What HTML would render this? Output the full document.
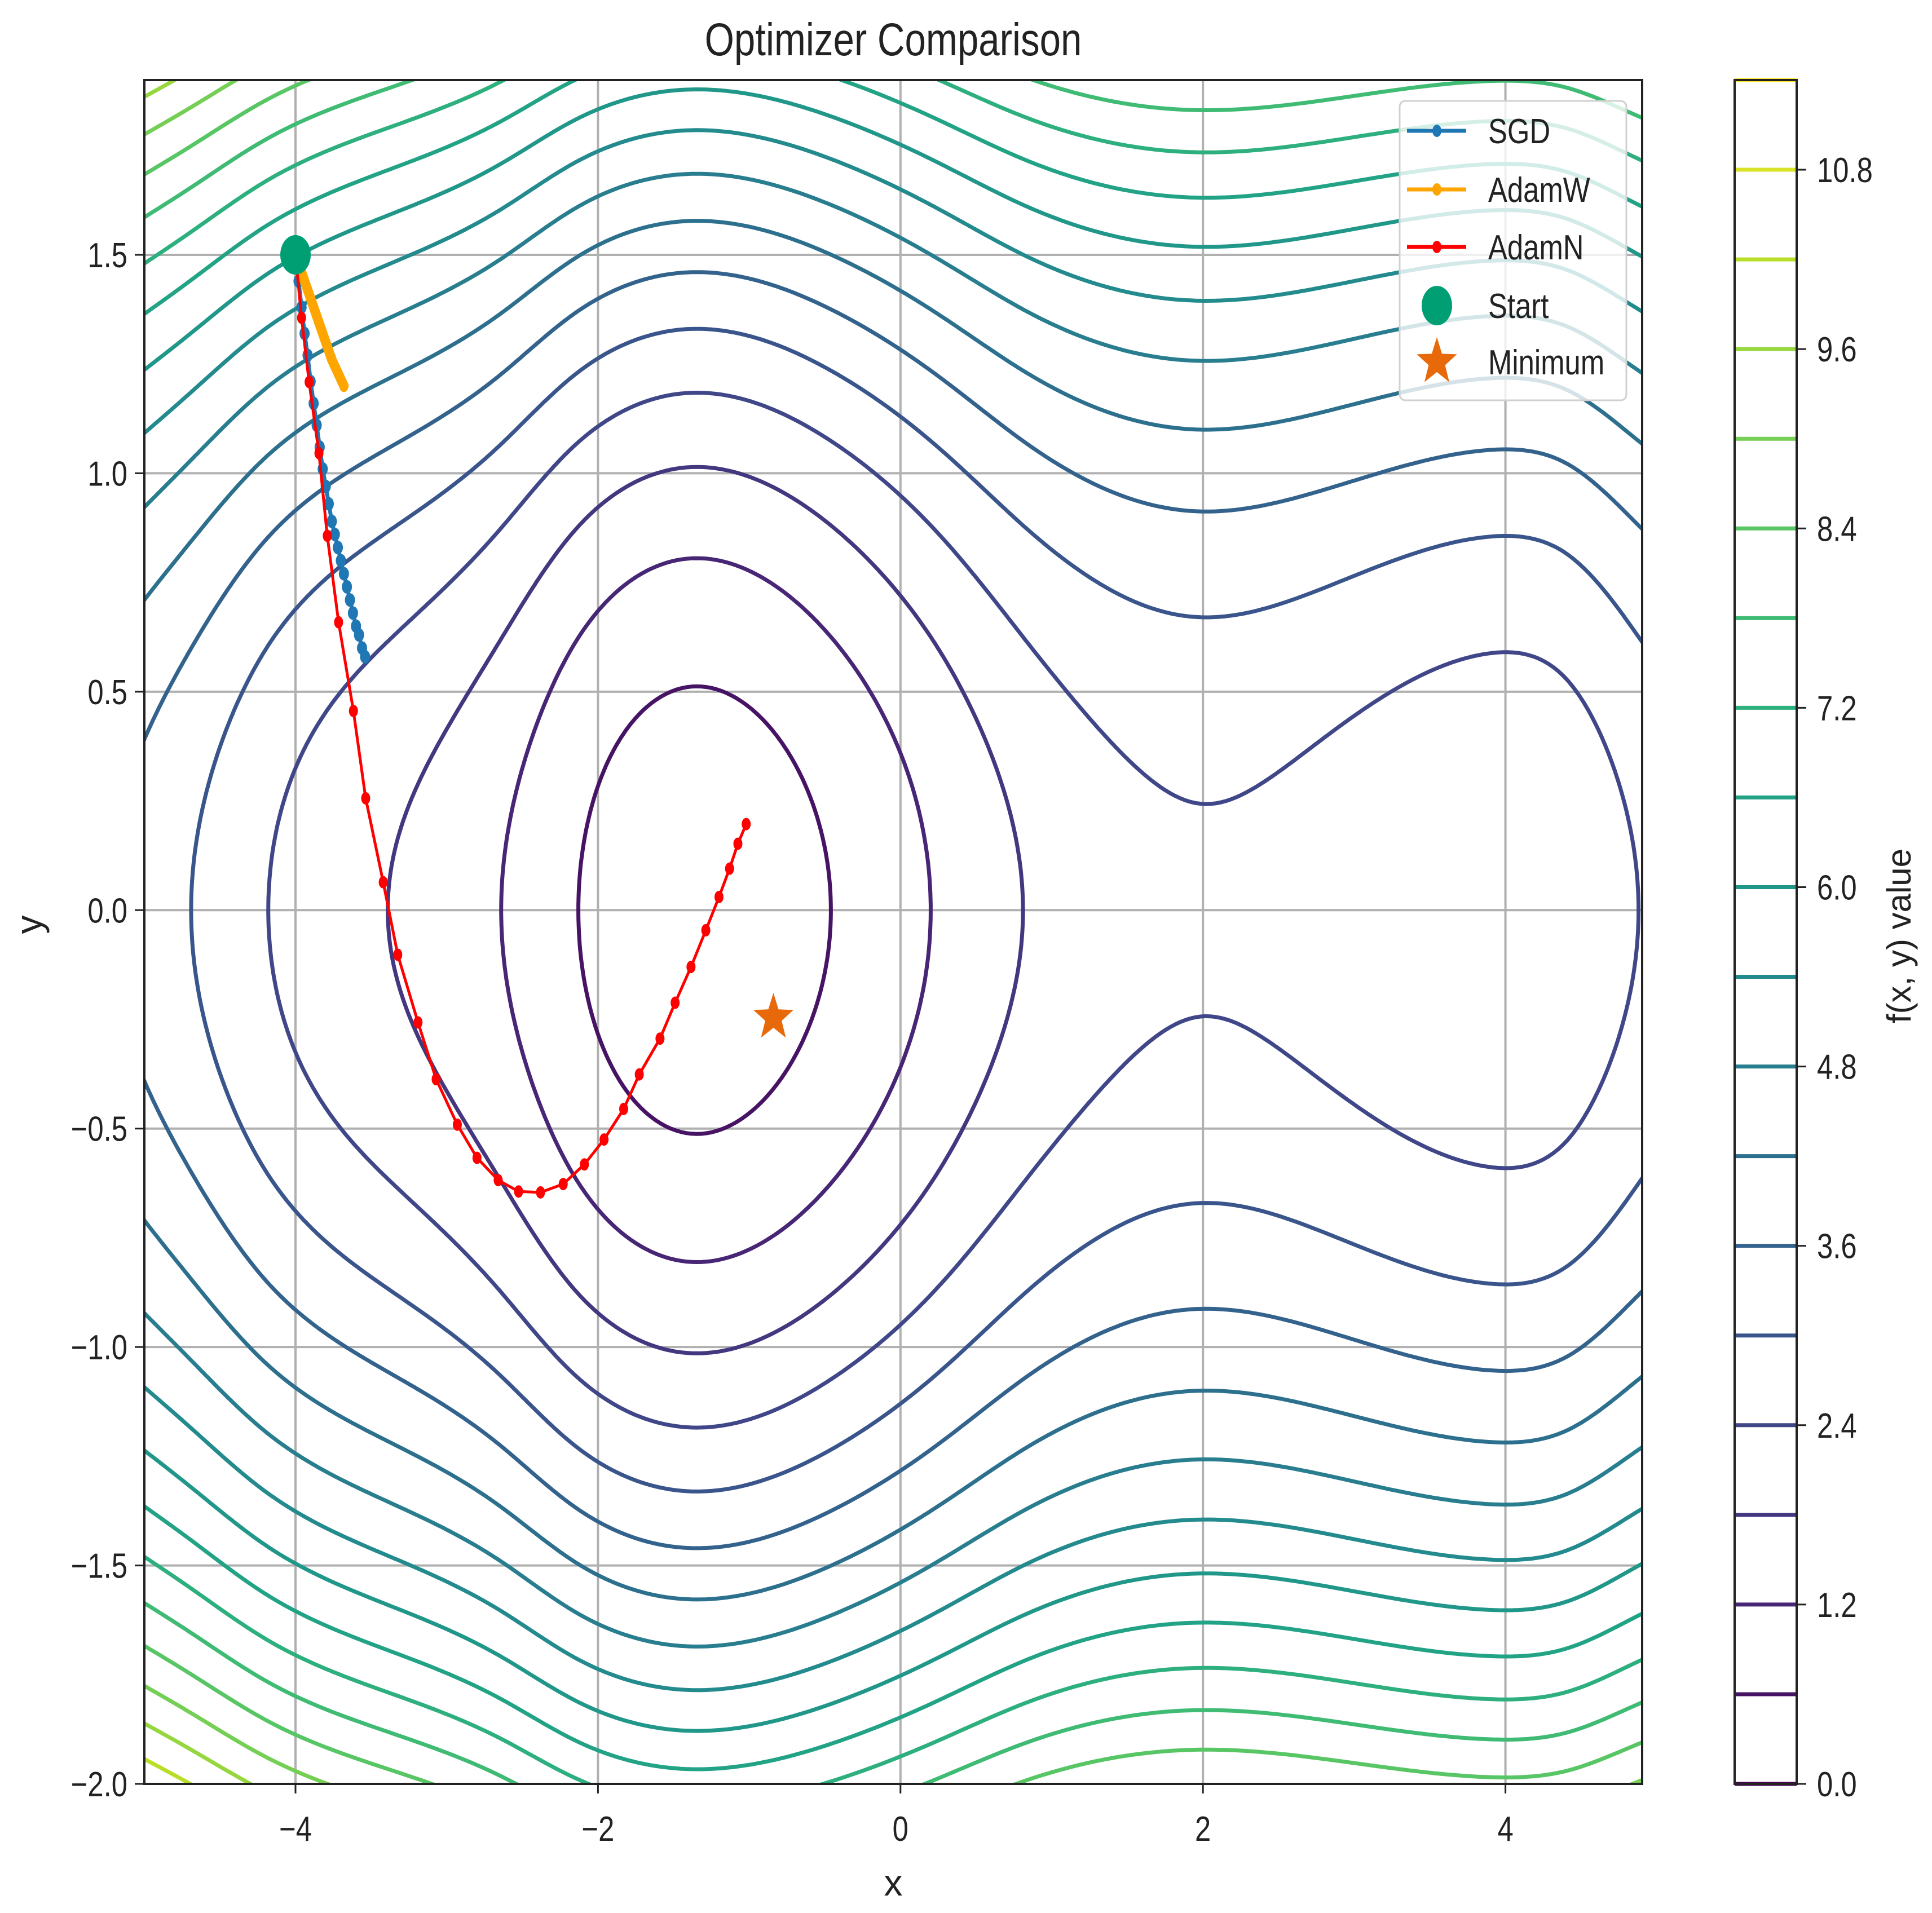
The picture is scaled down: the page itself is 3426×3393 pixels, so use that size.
<!DOCTYPE html>
<html><head><meta charset="utf-8"><title>Optimizer Comparison</title>
<style>html,body{margin:0;padding:0;background:#fff}svg{display:block}text{font-family:"Liberation Sans","DejaVu Sans",sans-serif;fill:#222}</style>
</head><body>
<svg id="chart" xmlns="http://www.w3.org/2000/svg" width="3426" height="3393" viewBox="0 0 3426 3393">
<defs><clipPath id="plotclip"><rect x="256" y="142" width="2656" height="3022"/></clipPath></defs>
<rect x="0" y="0" width="3426" height="3393" fill="#fff"/>
<g id="grid"></g>
<g id="contours" clip-path="url(#plotclip)"></g>
<g id="paths" clip-path="url(#plotclip)"></g>
<rect x="256" y="142" width="2656" height="3022" fill="none" stroke="#222" stroke-width="4"/>
<g id="axes"></g>
<text x="1584" y="98" text-anchor="middle" font-size="82" transform="translate(1584 0) scale(0.82 1) translate(-1584 0)">Optimizer Comparison</text>
<text x="1584" y="3362" text-anchor="middle" font-size="66">x</text>
<text x="0" y="0" text-anchor="middle" font-size="66" transform="translate(74 1640) rotate(-90)">y</text>
<g id="legend"></g>
<g id="cbar"></g>
<text x="0" y="0" text-anchor="middle" font-size="60" transform="translate(3388 1660) rotate(-90)">f(x, y) value</text>
</svg>
<script>
// ---- data ----
const gKnotX = [-5.2, -4.69, -4.18, -3.39, -2.64, -2.13, -1.3, -0.46, 0.2, 0.81, 2.0, 3.4, 3.9, 4.4, 4.88, 5.1];
const gKnotV = [3.55, 3.0, 2.4, 1.8, 1.2, 0.6, 0.2, 0.6, 1.2, 1.8, 2.31, 1.97, 1.87, 1.97, 2.4, 2.6];
const yCoef = 1.52;
const yQuart = 0.035;
const leftBoost = 0.012;
const contourLevels = [0,0.6,1.2,1.8,2.4,3.0,3.6,4.2,4.8,5.4,6.0,6.6,7.2,7.8,8.4,9.0,9.6,10.2,10.8,11.4];
const xTicks = [-4,-2,0,2,4];
const xTickLabels = ["\u22124","\u22122","0","2","4"];
const yTicks = [-2.0,-1.5,-1.0,-0.5,0.0,0.5,1.0,1.5];
const yTickLabels = ["\u22122.0","\u22121.5","\u22121.0","\u22120.5","0.0","0.5","1.0","1.5"];
const cbarTicks = [0.0,1.2,2.4,3.6,4.8,6.0,7.2,8.4,9.6,10.8];
const cbarTickLabels = ["0.0","1.2","2.4","3.6","4.8","6.0","7.2","8.4","9.6","10.8"];
const sgdX = [-4.0,-3.98,-3.96,-3.94,-3.92,-3.90,-3.88,-3.86,-3.84,-3.82,-3.80,-3.78,-3.76,-3.74,-3.72,-3.70,-3.68,-3.66,-3.64,-3.62,-3.60,-3.58,-3.56,-3.54];
const sgdY = [1.5,1.44,1.38,1.32,1.27,1.21,1.16,1.11,1.06,1.01,0.97,0.93,0.89,0.86,0.83,0.80,0.77,0.74,0.71,0.68,0.65,0.63,0.60,0.58];
const adamwX = [-4.0,-3.96,-3.92,-3.88,-3.84,-3.80,-3.76,-3.72,-3.68];
const adamwY = [1.5,1.46,1.42,1.38,1.34,1.30,1.26,1.23,1.20];
const adamnX = [-4.0,-3.96,-3.91,-3.845,-3.79,-3.715,-3.617,-3.536,-3.42,-3.324,-3.19,-3.07,-2.93,-2.80,-2.66,-2.525,-2.38,-2.23,-2.09,-1.96,-1.83,-1.727,-1.59,-1.49,-1.385,-1.287,-1.20,-1.13,-1.075,-1.02];
const adamnY = [1.5,1.356,1.209,1.046,0.857,0.659,0.456,0.256,0.064,-0.102,-0.257,-0.387,-0.491,-0.567,-0.618,-0.644,-0.646,-0.627,-0.582,-0.525,-0.455,-0.376,-0.294,-0.212,-0.130,-0.046,0.030,0.095,0.152,0.197];
const startPt = [-4.0, 1.5];
const minimumPt = [-0.84, -0.246];

// ---- scales ----
const X = v => 524 + (v + 4) * 268.2;
const Y = v => 452 - (v - 1.5) * 774.86;
const CB = v => 3164 - v / 11.4 * 3022;
const NS = "http://www.w3.org/2000/svg";
function mk(tag, attrs, parent){const e=document.createElementNS(NS,tag);for(const k in attrs)e.setAttribute(k,attrs[k]);parent.appendChild(e);return e;}
const vir = ["#440154","#482475","#414487","#355f8d","#2a788e","#21918c","#22a884","#44bf70","#7ad151","#bddf26","#fde725"];
function hex(h){return [1,3,5].map(i=>parseInt(h.substr(i,2),16));}
function viridis(t){t=Math.max(0,Math.min(1,t));const s=t*10,i=Math.min(9,Math.floor(s)),f=s-i;const a=hex(vir[i]),b=hex(vir[i+1]);return "rgb("+a.map((c,k)=>Math.round(c+(b[k]-c)*f)).join(",")+")";}

// natural cubic spline for g(x)
const n=gKnotX.length;
const M=(function(){const h=[],al=[],l=[1],mu=[0],z=[0],c=new Array(n).fill(0);
 for(let i=0;i<n-1;i++)h.push(gKnotX[i+1]-gKnotX[i]);
 for(let i=1;i<n-1;i++)al[i]=3/h[i]*(gKnotV[i+1]-gKnotV[i])-3/h[i-1]*(gKnotV[i]-gKnotV[i-1]);
 for(let i=1;i<n-1;i++){l[i]=2*(gKnotX[i+1]-gKnotX[i-1])-h[i-1]*mu[i-1];mu[i]=h[i]/l[i];z[i]=(al[i]-h[i-1]*z[i-1])/l[i];}
 for(let j=n-2;j>=1;j--)c[j]=z[j]-mu[j]*c[j+1];
 const b=[],d=[];for(let j=0;j<n-1;j++){b[j]=(gKnotV[j+1]-gKnotV[j])/h[j]-h[j]*(c[j+1]+2*c[j])/3;d[j]=(c[j+1]-c[j])/(3*h[j]);}
 return {b:b,c:c,d:d};})();
function g(x){let i=0;while(i<n-2&&x>gKnotX[i+1])i++;const t=x-gKnotX[i];return gKnotV[i]+M.b[i]*t+M.c[i]*t*t+M.d[i]*t*t*t;}
function f(x,y){const dl=Math.max(0,-(x+1.3));const y2=y*y;return g(x)+(yCoef+yQuart*y2+leftBoost*dl*dl)*y2;}

// grid
const grid=document.getElementById('grid');
xTicks.forEach(v=>{const l=mk('line',{x1:X(v),x2:X(v),y1:142,y2:3164,stroke:'#b0b0b0','stroke-width':4},grid);});
yTicks.forEach(v=>{const l=mk('line',{x1:256,x2:2912,y1:Y(v),y2:Y(v),stroke:'#b0b0b0','stroke-width':4},grid);});

// contours (marching squares)
const cg=document.getElementById('contours');
const NX=300,NY=260,x0=-5.05,x1=4.95,y0=-2.05,y1=1.95;
const vals=[];for(let j=0;j<=NY;j++){const r=[];for(let i=0;i<=NX;i++)r.push(f(x0+(x1-x0)*i/NX,y0+(y1-y0)*j/NY));vals.push(r);}
contourLevels.forEach(L=>{
 let d="";
 for(let j=0;j<NY;j++)for(let i=0;i<NX;i++){
  const xa=x0+(x1-x0)*i/NX,xb=x0+(x1-x0)*(i+1)/NX,ya=y0+(y1-y0)*j/NY,yb=y0+(y1-y0)*(j+1)/NY;
  const v00=vals[j][i],v10=vals[j][i+1],v01=vals[j+1][i],v11=vals[j+1][i+1];
  const pts=[];
  const e=(va,vb,pa,pb)=>{if((va<L)!==(vb<L)){const t=(L-va)/(vb-va);pts.push([pa[0]+(pb[0]-pa[0])*t,pa[1]+(pb[1]-pa[1])*t]);}};
  e(v00,v10,[xa,ya],[xb,ya]);e(v10,v11,[xb,ya],[xb,yb]);e(v11,v01,[xb,yb],[xa,yb]);e(v01,v00,[xa,yb],[xa,ya]);
  for(let k=0;k+1<pts.length;k+=2)d+="M"+X(pts[k][0]).toFixed(1)+" "+Y(pts[k][1]).toFixed(1)+"L"+X(pts[k+1][0]).toFixed(1)+" "+Y(pts[k+1][1]).toFixed(1);
 }
 if(d){const p=mk('path',{d:d,fill:'none',stroke:viridis(L/11.4),'stroke-width':7,'stroke-linecap':'round'},cg);
 
 }
});

// trajectories
const pg=document.getElementById('paths');
function series(xs,ys,color,lw,rx,ry,name){
 const grp=mk('g',{},pg);
 
 
 const pl=mk('polyline',{points:xs.map((v,i)=>X(v)+','+Y(ys[i])).join(' '),fill:'none',stroke:color,'stroke-width':lw,'stroke-linejoin':'round','stroke-linecap':'round'},grp);
 
 
 xs.forEach((v,i)=>{const m=mk('ellipse',{cx:X(v),cy:Y(ys[i]),rx:rx,ry:ry,fill:color},grp);
  
  });
}
series(sgdX,sgdY,'#1f77b4',7,9,12,'sgd');
series(adamwX,adamwY,'#ffa500',17,8,11,'adamw');
series(adamnX,adamnY,'#ff0000',5,8,11,'adamn');
const st=mk('ellipse',{cx:X(startPt[0]),cy:Y(startPt[1]),rx:27,ry:35,fill:'#009e73'},pg);


function star(cx,cy,R,r){let p=[];for(let k=0;k<10;k++){const a=-Math.PI/2+k*Math.PI/5,rr=k%2?r:R;p.push((cx+rr*Math.cos(a)*0.85).toFixed(1)+','+(cy+rr*Math.sin(a)).toFixed(1));}return p.join(' ');}
const mn=mk('polygon',{points:star(X(minimumPt[0]),Y(minimumPt[1]),44,18),fill:'#e8690a'},pg);



// axes ticks
const ax=document.getElementById('axes');
xTicks.forEach((v,i)=>{const t=mk('line',{x1:X(v),x2:X(v),y1:3164,y2:3181,stroke:'#222','stroke-width':3},ax);
 const tx=mk('text',{x:X(v),y:3265,'text-anchor':'middle','font-size':62,transform:'translate('+X(v)+' 0) scale(0.82 1) translate('+(-X(v))+' 0)'},ax);tx.textContent=xTickLabels[i];});
yTicks.forEach((v,i)=>{const t=mk('line',{x1:239,x2:256,y1:Y(v),y2:Y(v),stroke:'#222','stroke-width':3},ax);
 const tx=mk('text',{x:226,y:Y(v)+22,'text-anchor':'end','font-size':62,transform:'translate(226 0) scale(0.82 1) translate(-226 0)'},ax);tx.textContent=yTickLabels[i];});

// legend
const lg=document.getElementById('legend');
const lb=mk('rect',{x:2482,y:179,width:402,height:531,rx:10,fill:'#fff','fill-opacity':0.8,stroke:'#d0d0d0','stroke-width':3},lg);


const legNames=["SGD","AdamW","AdamN","Start","Minimum"];
const legColors=["#1f77b4","#ffa500","#ff0000","#009e73","#e8690a"];
const legY=[232,336,438,542,642];
legNames.forEach((nm,i)=>{
 const y=legY[i];
 const e=mk('g',{},lg);
 
 
 if(i<3){mk('line',{x1:2495,x2:2600,y1:y,y2:y,stroke:legColors[i],'stroke-width':7},e);mk('ellipse',{cx:2548,cy:y,rx:8,ry:11,fill:legColors[i]},e);}
 else if(i===3){mk('ellipse',{cx:2548,cy:y,rx:27,ry:35,fill:legColors[i]},e);}
 else{mk('polygon',{points:star(2548,y,44,18),fill:legColors[i]},e);}
 const t=mk('text',{x:2639,y:y+22,'font-size':62,transform:'translate(2639 0) scale(0.82 1) translate(-2639 0)'},e);t.textContent=nm;
});

// colorbar
const cb=document.getElementById('cbar');
contourLevels.forEach(L=>{const l=mk('line',{x1:3076,x2:3186,y1:CB(L),y2:CB(L),stroke:viridis(L/11.4),'stroke-width':7},cb);
 
 });
const cf=mk('rect',{x:3076,y:142,width:110,height:3022,fill:'none',stroke:'#222','stroke-width':4},cb);


cbarTicks.forEach((v,i)=>{const t=mk('line',{x1:3186,x2:3203,y1:CB(v),y2:CB(v),stroke:'#222','stroke-width':3},cb);
 const tx=mk('text',{x:3222,y:CB(v)+22,'font-size':62,transform:'translate(3222 0) scale(0.82 1) translate(-3222 0)'},cb);tx.textContent=cbarTickLabels[i];});
</script>
</body></html>
